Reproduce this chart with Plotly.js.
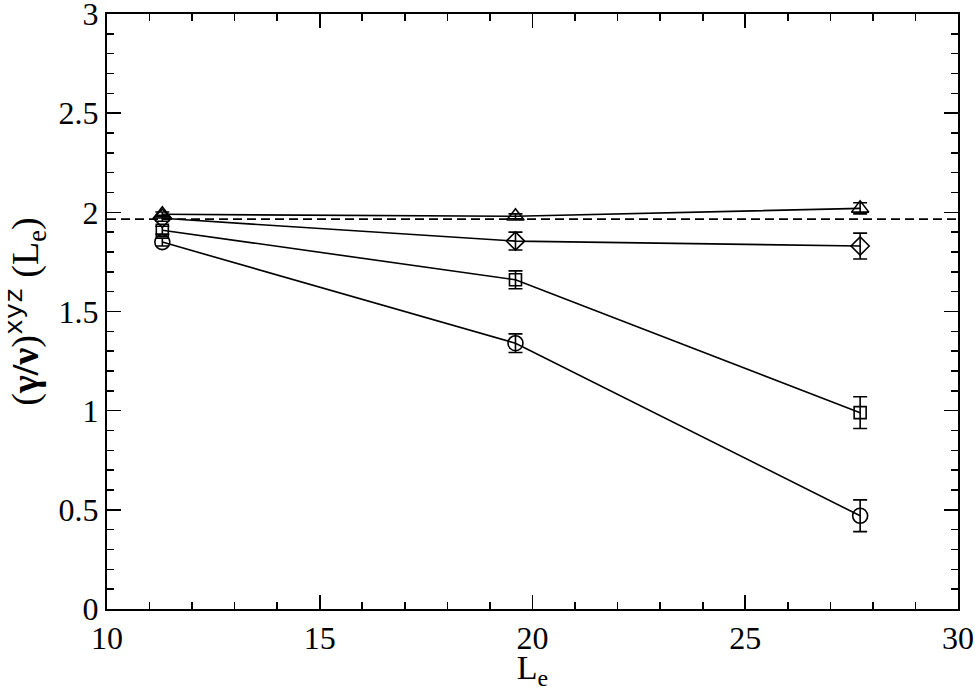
<!DOCTYPE html>
<html>
<head>
<meta charset="utf-8">
<script src="https://cdn.plot.ly/plotly-3.0.1.min.js"></script>
<style>html,body{margin:0;padding:0;background:#fff;}#chart{width:975px;height:691px;}</style>
</head>
<body>
<div id="chart"></div>
<script>
var Le = [11.3, 19.6, 27.7];
var triY = [1.99, 1.98, 2.02];
var triErr = [0.012, 0.012, 0.028];
var diaY = [1.97, 1.855, 1.83];
var diaErr = [0.015, 0.045, 0.065];
var sqY = [1.91, 1.66, 0.99];
var sqErr = [0.02, 0.045, 0.08];
var cirY = [1.85, 1.34, 0.47];
var cirErr = [0.02, 0.047, 0.08];
var refValue = 1.966;
var xRange = [10, 30];
var yRange = [0, 3];
var xTicks = [10, 15, 20, 25, 30];
var xTickText = ['10', '15', '20', '25', '30'];
var yTicks = [0, 0.5, 1, 1.5, 2, 2.5, 3];
var yTickText = ['0', '0.5', '1', '1.5', '2', '2.5', '3'];

function series(y, err, sym, size) {
  return {
    x: Le, y: y, type: 'scatter', mode: 'lines+markers',
    line: {color: '#000', width: 1.6},
    marker: {symbol: sym, size: size, color: '#000', line: {color: '#000', width: 1.6}},
    error_y: {type: 'data', array: err, visible: true, color: '#000', thickness: 1.6, width: 7},
    showlegend: false, cliponaxis: false
  };
}

var traces = [
  {x: xRange, y: [refValue, refValue], type: 'scatter', mode: 'lines',
   line: {color: '#000', width: 1.8, dash: '9px,5px'}, showlegend: false},
  series(triY, triErr, 'triangle-up-open', 15),
  series(diaY, diaErr, 'diamond-open', 14),
  series(sqY, sqErr, 'square-open', 12),
  series(cirY, cirErr, 'circle-open', 15)
];

var fam = 'Liberation Serif';
var layout = {
  width: 975, height: 691,
  margin: {l: 107, r: 17, t: 14, b: 82},
  paper_bgcolor: '#fff', plot_bgcolor: '#fff',
  font: {family: fam, color: '#000'},
  xaxis: {
    range: xRange, tickmode: 'array', tickvals: xTicks, ticktext: xTickText,
    ticks: 'inside', ticklen: 14, tickwidth: 1.6, tickcolor: '#000',
    minor: {dtick: 1, tick0: 10, ticks: 'inside', ticklen: 7, tickwidth: 1.6, tickcolor: '#000', showgrid: false},
    showline: true, linecolor: '#000', linewidth: 2, mirror: 'allticks',
    showgrid: false, zeroline: false, ticklabeloverflow: 'allow',
    tickfont: {family: fam, size: 32, color: '#000'},
    title: {text: 'L<sub>e</sub>', font: {family: fam, size: 34, color: '#000'}, standoff: 4}
  },
  yaxis: {
    range: yRange, tickmode: 'array', tickvals: yTicks, ticktext: yTickText,
    ticks: 'inside', ticklen: 14, tickwidth: 1.6, tickcolor: '#000',
    minor: {dtick: 0.1, tick0: 0, ticks: 'inside', ticklen: 7, tickwidth: 1.6, tickcolor: '#000', showgrid: false},
    showline: true, linecolor: '#000', linewidth: 2, mirror: 'allticks',
    showgrid: false, zeroline: false, ticklabeloverflow: 'allow',
    tickfont: {family: fam, size: 32, color: '#000'},
    title: {text: '(<b>γ/ν</b>)<sup><span style="font-family:Liberation Mono">xyz</span></sup> (L<sub>e</sub>)', font: {family: fam, size: 38, color: '#000'}, standoff: 8}
  }
};

Plotly.newPlot('chart', traces, layout, {displayModeBar: false, staticPlot: true});
</script>
</body>
</html>
